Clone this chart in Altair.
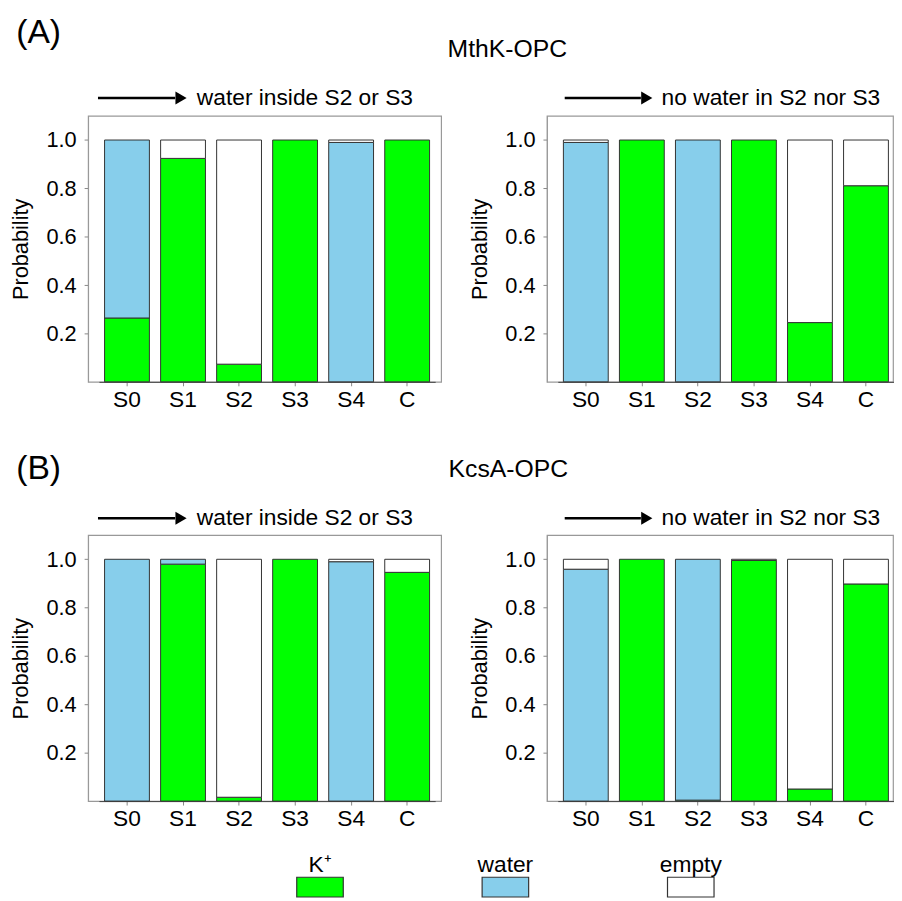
import altair as alt
import pandas as pd

FONT = "Liberation Sans"

sites = ["S0", "S1", "S2", "S3", "S4", "C"]
species = ["K+", "water", "empty"]
species_labels = ["K⁺", "water", "empty"]
colors = ["#00ff00", "#87ceeb", "#ffffff"]

# MthK-OPC, water inside S2 or S3
mthk_in_k = [0.264, 0.924, 0.073, 1.0, 0.0, 1.0]
mthk_in_water = [0.736, 0.0, 0.0, 0.0, 0.99, 0.0]
mthk_in_empty = [0.0, 0.076, 0.927, 0.0, 0.01, 0.0]
# MthK-OPC, no water in S2 nor S3
mthk_no_k = [0.0, 1.0, 0.0, 1.0, 0.245, 0.811]
mthk_no_water = [0.99, 0.0, 1.0, 0.0, 0.0, 0.0]
mthk_no_empty = [0.01, 0.0, 0.0, 0.0, 0.755, 0.189]
# KcsA-OPC, water inside S2 or S3
kcsa_in_k = [0.0, 0.98, 0.016, 1.0, 0.0, 0.946]
kcsa_in_water = [1.0, 0.02, 0.0, 0.0, 0.99, 0.0]
kcsa_in_empty = [0.0, 0.0, 0.984, 0.0, 0.01, 0.054]
# KcsA-OPC, no water in S2 nor S3
kcsa_no_k = [0.0, 1.0, 0.004, 0.995, 0.05, 0.898]
kcsa_no_water = [0.959, 0.0, 0.996, 0.0, 0.0, 0.0]
kcsa_no_empty = [0.041, 0.0, 0.0, 0.005, 0.95, 0.102]

y_ticks = [0.2, 0.4, 0.6, 0.8, 1.0]

color_scale = alt.Scale(domain=species, range=colors)


def make_df(k, w, e):
    rows = []
    for i, s in enumerate(sites):
        for j, (sp, vals) in enumerate(zip(species, [k, w, e])):
            if vals[i] > 0:
                rows.append({"site": s, "species": sp, "order": j, "prob": vals[i]})
    return pd.DataFrame(rows)


def bars(df):
    return alt.Chart(df).mark_bar(stroke="#333333", strokeWidth=1).encode(
        x=alt.X("site:N", sort=sites,
                scale=alt.Scale(domain=sites, range=[11, 351], paddingInner=0.2, paddingOuter=0.1),
                axis=alt.Axis(title=None, labelAngle=0)),
        y=alt.Y("prob:Q", stack="zero",
                scale=alt.Scale(domain=[0, 1.1], nice=False, zero=True),
                axis=alt.Axis(title="Probability", values=y_ticks, format=".1f")),
        color=alt.Color("species:N", scale=color_scale, legend=None),
        order=alt.Order("order:Q"),
    )


def text(txt, x, y, size, align="left"):
    return alt.Chart(pd.DataFrame({"t": [txt]})).mark_text(
        align=align, baseline="middle", fontSize=size, font=FONT, color="black"
    ).encode(x=alt.value(x), y=alt.value(y), text="t:N")


def arrow(x0, x1, y):
    d = pd.DataFrame({"a": [0]})
    line = alt.Chart(d).mark_rule(strokeWidth=2.5, color="black").encode(
        x=alt.value(x0), x2=alt.value(x1 - 6), y=alt.value(y))
    head = alt.Chart(d).mark_point(shape="triangle-right", filled=True, size=170,
                                   color="black", opacity=1).encode(
        x=alt.value(x1), y=alt.value(y))
    return [line, head]


W_L, W_R, H = 357, 350, 269

a_left = alt.layer(
    bars(make_df(mthk_in_k, mthk_in_water, mthk_in_empty)),
    *arrow(10, 94, -18),
    text("water inside S2 or S3", 110, -18, 23),
    text("(A)", -50, -84, 34, align="center"),
    text("MthK-OPC", 424, -68, 25, align="center"),
).properties(width=W_L, height=H)

a_right = alt.layer(
    bars(make_df(mthk_no_k, mthk_no_water, mthk_no_empty)),
    *arrow(18, 101, -18),
    text("no water in S2 nor S3", 116, -18, 23),
).properties(width=W_R, height=H)

leg_df = pd.DataFrame({"species": species, "label": species_labels})
leg_rect = alt.Chart(leg_df).mark_rect(stroke="#333333", strokeWidth=1.2).encode(
    x=alt.X("species:N", sort=species,
            scale=alt.Scale(domain=species, range=[211, 633], paddingInner=0.749, paddingOuter=0),
            axis=None),
    y=alt.value(346), y2=alt.value(366),
    color=alt.Color("species:N", scale=color_scale, legend=None))
leg_text = alt.Chart(leg_df).mark_text(
    baseline="alphabetic", fontSize=23, font=FONT, color="black").encode(
    x=alt.X("species:N", sort=species,
            scale=alt.Scale(type="point", domain=species, range=[234.5, 609.5], padding=0),
            axis=None),
    y=alt.value(341), text="label:N")

b_left = alt.layer(
    bars(make_df(kcsa_in_k, kcsa_in_water, kcsa_in_empty)),
    *arrow(10, 94, -17),
    text("water inside S2 or S3", 110, -17, 23),
    text("(B)", -50, -67, 34, align="center"),
    text("KcsA-OPC", 425, -67, 25, align="center"),
    leg_rect, leg_text,
).resolve_scale(x="independent").properties(width=W_L, height=H)

b_right = alt.layer(
    bars(make_df(kcsa_no_k, kcsa_no_water, kcsa_no_empty)),
    *arrow(18, 101, -17),
    text("no water in S2 nor S3", 116, -17, 23),
).properties(width=W_R, height=H)

chart = alt.concat(
    a_left, a_right, b_left, b_right,
    columns=2,
    spacing=alt.RowColnumber(row=155, column=107),
    bounds="flush",
).properties(
    padding={"left": 0, "top": 2, "right": 0, "bottom": 0},
    background="white",
).configure_view(
    stroke="#999999", strokeWidth=1.2
).configure_axis(
    labelFont=FONT, titleFont=FONT, labelColor="black", titleColor="black", grid=False
).configure_axisX(
    domainColor="#444444", tickColor="#888888", tickSize=4, labelFontSize=23, labelPadding=3
).configure_axisY(
    domainColor="#999999", tickColor="#888888", tickSize=4, labelFontSize=22,
    labelPadding=8, titleFontSize=22, titleFontWeight="normal", titlePadding=14
)

chart.save("out.html", embed_options={"renderer": "svg", "actions": False})
